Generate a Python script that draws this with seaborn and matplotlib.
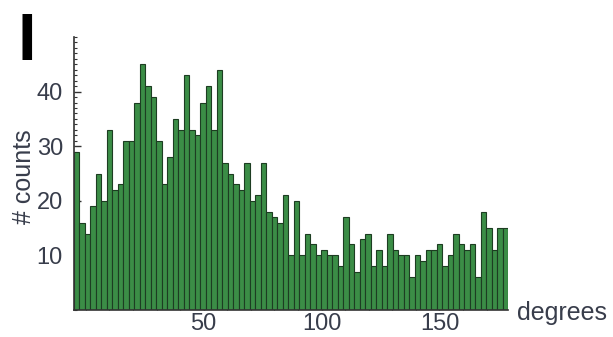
import numpy as np
import pandas as pd
import matplotlib
matplotlib.use("Agg")
import matplotlib.pyplot as plt
from matplotlib.ticker import MultipleLocator
import seaborn as sns

# Histogram of angles: counts per bin, read left to right
counts = [29, 16, 14, 19, 25, 20, 33, 22, 23, 31, 31, 38, 45,
          41, 39, 31, 23, 28, 35, 33, 43,
          33, 32, 38, 41, 33, 44,
          27, 25, 23, 22, 27, 20, 21, 27, 18, 17, 16, 21,
          10, 20, 10, 14, 12, 10, 11, 10, 10, 8, 17, 12, 7, 13, 14,
          8, 11, 8, 14, 11, 10, 10, 6, 10, 9, 11, 11, 12, 8,
          10, 14, 12, 11, 12, 6, 18, 15, 11, 15, 15]
first_edge = -5.0
bin_width = 2.33
x_ticks = [50, 100, 150]
y_ticks = [10, 20, 30, 40]
x_label = "degrees"
y_label = "# counts"
panel = "I"

n = len(counts)
edges = [first_edge + bin_width * i for i in range(n + 1)]
hist = pd.DataFrame({"angle": [(edges[i] + edges[i + 1]) / 2 for i in range(n)],
                     "count": np.asarray(counts, dtype=float)})

sns.set_style("ticks")
plt.rcParams["font.family"] = ["Liberation Sans", "DejaVu Sans"]

text_color = "#383d4b"
fig = plt.figure(figsize=(6.13, 3.37), dpi=100)
ax = fig.add_axes([74 / 613, 1 - 310 / 337, 434 / 613, 273 / 337])

sns.histplot(data=hist, x="angle", weights="count", bins=edges, ax=ax,
             color="#3b8d46", edgecolor="#1d3d22", linewidth=0.8,
             alpha=1.0, element="bars", fill=True)

ax.set_xlim(edges[0], edges[-1])
ax.set_ylim(0, 50)
ax.set_xticks(x_ticks)
ax.set_yticks(y_ticks)
ax.xaxis.set_minor_locator(MultipleLocator(10))
ax.yaxis.set_minor_locator(MultipleLocator(1))
ax.tick_params(axis="both", which="major", direction="in", length=5,
               width=1.0, color="#333333", labelsize=17,
               labelcolor=text_color)
ax.tick_params(axis="x", which="major", pad=2)
ax.tick_params(axis="y", which="major", pad=8)
ax.tick_params(axis="both", which="minor", direction="in", length=2.5,
               width=0.8, color="#333333")
ax.set_xlabel("")
ax.set_ylabel("")

for side in ("top", "right"):
    ax.spines[side].set_visible(False)
for side in ("left", "bottom"):
    ax.spines[side].set_color("#333333")
    ax.spines[side].set_linewidth(1.2)

ax.text(1.02, -0.01, x_label, transform=ax.transAxes, ha="left", va="center",
        fontsize=18, color=text_color)
fig.text(24 / 613, 1 - 177 / 337, y_label, rotation=90, ha="center",
         va="center", fontsize=18, color=text_color)
fig.text(27 / 613, 1 - 43 / 337, panel, ha="center", va="center",
         fontsize=48, fontweight="bold", color="black")

fig.savefig("out.png", dpi=100)
